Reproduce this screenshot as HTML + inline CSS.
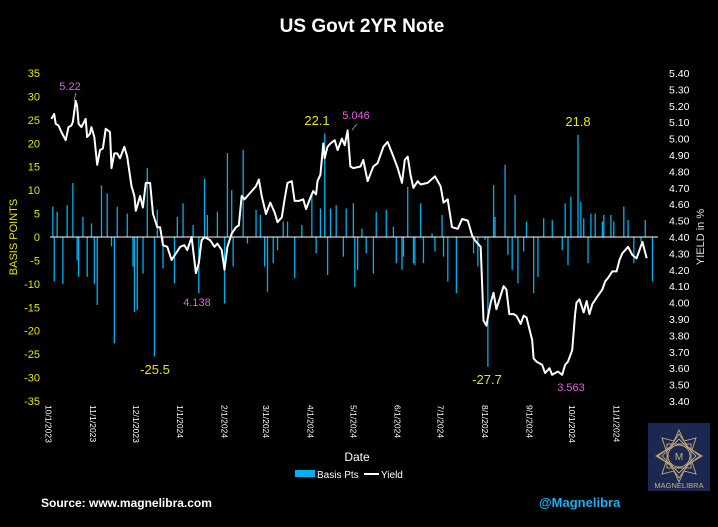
<!DOCTYPE html>
<html><head><meta charset="utf-8">
<style>
html,body{margin:0;padding:0;background:#000;}
body{width:718px;height:522px;overflow:hidden;font-family:"Liberation Sans Narrow","Liberation Sans",sans-serif;}
svg text{font-family:"Liberation Sans Narrow","Liberation Sans",sans-serif;}
</style></head>
<body>
<svg id="chart" width="718" height="522" viewBox="0 0 718 522" xmlns="http://www.w3.org/2000/svg">
<rect x="0" y="0" width="718" height="522" fill="#000"/>
<text x="362" y="32" fill="#fff" font-size="19" font-weight="bold" text-anchor="middle">US Govt 2YR Note</text>
<g id="leftTicks"></g><g id="rightTicks"></g><g id="xTicks"></g>
<g id="bars"></g>
<line x1="50" y1="237" x2="658" y2="237" stroke="#fff" stroke-width="1"/>
<path id="yieldLine" fill="none" stroke="#fff" stroke-width="2" stroke-linejoin="round"/>
<g id="annots"></g>
<text transform="translate(17,237) rotate(-90)" fill="#e6e600" font-size="11" text-anchor="middle">BASIS POINTS</text>
<text transform="translate(704,237) rotate(-90)" fill="#ddd" font-size="11" text-anchor="middle">YIELD in %</text>
<text x="357" y="461" fill="#fff" font-size="12" text-anchor="middle">Date</text>
<g>
<rect x="295" y="470" width="20" height="7" fill="#00b0f0"/>
<text x="317" y="478" fill="#fff" font-size="10">Basis Pts</text>
<line x1="364" y1="474" x2="379" y2="474" stroke="#fff" stroke-width="2"/>
<text x="381" y="478" fill="#fff" font-size="10">Yield</text>
</g>
<text x="41" y="507" fill="#fff" font-size="12" font-weight="bold">Source: www.magnelibra.com</text>
<text x="539" y="507" fill="#1ab0f0" font-size="13" font-weight="bold">@Magnelibra</text>
<g>
<rect x="648" y="423" width="62" height="68" fill="#1c2752"/>
<g fill="none" stroke="#c9b27a" stroke-width="0.9">
<polygon points="679,430 684,441 696,438 692,450 702,456 692,462 696,474 684,471 679,482 674,471 662,474 666,462 656,456 666,450 662,438 674,441"/>
<polygon points="679,434 688,447 700,456 688,465 679,478 670,465 658,456 670,447"/>
<rect x="667" y="444" width="24" height="24" transform="rotate(45 679 456)"/>
<rect x="667" y="444" width="24" height="24"/>
<circle cx="679" cy="456" r="11"/>
</g>
<text x="679" y="460" fill="#c9b27a" font-size="10" text-anchor="middle">M</text>
<text x="679" y="488" fill="#c9b27a" font-size="7.5" text-anchor="middle">MAGNELIBRA</text>
</g>
</svg>
<script>
// ---- data ----
const leftTickValues = [35,30,25,20,15,10,5,0,-5,-10,-15,-20,-25,-30,-35];
const rightTickValues = [5.40,5.30,5.20,5.10,5.00,4.90,4.80,4.70,4.60,4.50,4.40,4.30,4.20,4.10,4.00,3.90,3.80,3.70,3.60,3.50,3.40];
const dateLabels = ["10/1/2023","11/1/2023","12/1/2023","1/1/2024","2/1/2024","3/1/2024","4/1/2024","5/1/2024","6/1/2024","7/1/2024","8/1/2024","9/1/2024","10/1/2024","11/1/2024"];
const dateLabelDays = [0,31,61,92,123,152,183,213,244,274,305,336,366,397];
const yieldDays = [2,4,5,7,9,12,14,16,17,19,20,21,23,26,27,29,30,32,34,36,38,40,43,44,46,48,50,53,55,58,60,61,64,66,68,71,73,76,78,80,83,86,89,92,95,97,100,103,105,107,109,113,116,118,121,123,125,128,131,133,135,137,139,142,145,147,149,152,155,158,160,163,165,167,170,172,175,178,180,183,185,187,188,190,192,193,195,197,200,202,205,207,209,211,213,218,220,223,227,230,234,237,241,244,247,249,251,253,255,258,260,265,270,274,276,279,282,286,289,293,296,298,302,304,306,309,311,313,318,320,322,325,327,330,332,334,338,339,341,345,347,350,352,356,359,361,363,366,368,369,371,374,376,378,380,383,387,389,391,394,397,399,401,405,408,411,415,418,422];
const yieldValues = [5.12,5.15,5.09,5.08,5.04,4.99,5.07,5.08,5.10,5.23,5.20,5.09,5.07,5.12,5.01,5.03,5.07,5.01,4.84,4.93,4.94,5.06,5.04,4.82,4.91,4.91,4.88,4.95,4.89,4.71,4.65,4.56,4.65,4.58,4.73,4.73,4.54,4.46,4.46,4.35,4.34,4.26,4.30,4.34,4.35,4.32,4.40,4.18,4.24,4.38,4.40,4.38,4.34,4.36,4.32,4.20,4.34,4.42,4.46,4.47,4.65,4.63,4.65,4.68,4.71,4.75,4.65,4.54,4.61,4.55,4.49,4.52,4.63,4.73,4.74,4.62,4.62,4.63,4.57,4.64,4.68,4.66,4.74,4.78,4.97,4.88,4.95,4.97,4.99,4.93,5.00,4.96,5.05,4.83,4.82,4.83,4.87,4.74,4.83,4.85,4.95,4.98,4.89,4.82,4.73,4.87,4.89,4.78,4.70,4.74,4.72,4.73,4.77,4.71,4.61,4.63,4.46,4.45,4.51,4.50,4.41,4.38,4.34,3.89,3.86,4.00,4.06,3.96,4.10,4.08,3.93,3.93,3.92,3.87,3.92,3.91,3.77,3.66,3.64,3.62,3.57,3.60,3.56,3.58,3.56,3.62,3.64,3.71,3.93,4.00,4.02,3.94,4.01,3.93,3.99,4.03,4.08,4.13,4.15,4.19,4.19,4.26,4.30,4.34,4.29,4.27,4.37,4.27];
const barDays = [3,4,6,10,13,17,20,21,24,27,30,32,34,37,41,44,46,48,55,59,60,62,66,69,74,76,80,88,90,94,101,105,109,111,118,123,125,128,129,136,139,145,148,151,153,157,160,164,167,172,177,184,187,190,193,195,197,201,206,208,213,214,216,219,222,227,229,236,241,243,247,248,251,255,256,260,262,268,270,275,276,279,285,297,300,305,307,311,312,319,321,324,326,328,332,334,339,342,346,352,359,361,363,365,370,372,374,377,379,382,387,388,393,395,402,405,409,414,417,422];
const barValues = [6.5,-9.5,5.4,-10,6.8,11.5,-5,-8.5,4.3,-8.5,2.9,-10,-14.5,11,9.3,-2,-22.7,6.5,5,-6.3,-16,-15.6,-7.8,14.7,-25.5,5.8,-6.7,-9.9,4.3,7.2,2.6,-12,12.5,4.7,5.4,-14.2,17.9,10,-6.3,18.6,-1.4,5.8,4.7,-6.3,-11.7,-5.6,-2.8,3.3,3.3,-8.8,2.6,9.3,-3.5,6.1,22.1,-8.1,6.1,6.8,-4.2,6.1,7.2,-10.6,-7,1.8,-3.5,-7.8,5.4,5.8,2.2,-5.6,-7,-4.2,10.7,-5.6,-6,7.2,-5.6,0.8,-3.1,4.7,-4.2,-9.5,-12,-3.5,-6.3,-0.6,-27.7,11.1,4.3,15.4,-3.8,-7,9,-9.9,-3.1,3.3,-12,-8.5,4,3.6,-2.8,7.2,-6,8.6,21.8,7.5,4,-5.6,5,5,3.3,4.7,4.7,3.3,6.5,3.6,-5.6,-1,3.6,-9.5];
const annotationTexts = ["5.22","-25.5","4.138","22.1","5.046","-27.7","21.8","3.563"];

// ---- axes ----
const NS = "http://www.w3.org/2000/svg";
const xOf = d => 48.5 + d * 1.431;
const yBp = v => 237 - v * 4.686;
const yYield = v => 237 - (v - 4.4) * 164;
function mk(tag, attrs, parent){ const e=document.createElementNS(NS,tag); for(const k in attrs) e.setAttribute(k,attrs[k]); parent.appendChild(e); return e; }

const lt = document.getElementById('leftTicks');
leftTickValues.forEach(v=>{
  const t = mk('text',{x:40,y:yBp(v)+4,fill:'#e6e600','font-size':11,'text-anchor':'end'},lt);
  
  
  t.textContent = v;
});
const rt = document.getElementById('rightTicks');
rightTickValues.forEach(v=>{
  const t = mk('text',{x:669,y:yYield(v)+4,fill:'#fff','font-size':10.5},rt);
  
  
  t.textContent = v.toFixed(2);
});
const xt = document.getElementById('xTicks');
dateLabels.forEach((s,i)=>{
  const x = xOf(dateLabelDays[i]);
  const t = mk('text',{transform:`translate(${x-3},405) rotate(90)`,fill:'#fff','font-size':8.5},xt);
  
  
  t.textContent = s;
});

// ---- bars ----
const bg = document.getElementById('bars');
barDays.forEach((d,i)=>{
  const v = barValues[i];
  const y0 = yBp(0), y1 = yBp(v);
  const r = mk('rect',{x:xOf(d)-0.6,y:Math.min(y0,y1),width:1.3,height:Math.abs(y1-y0),fill:'#00b0f0'},bg);
  
  
});

// ---- line ----
let p = '';
yieldDays.forEach((d,i)=>{ p += (i?'L':'M') + xOf(d).toFixed(1) + ',' + yYield(yieldValues[i]).toFixed(1); });
document.getElementById('yieldLine').setAttribute('d', p);

// ---- annotations ----
const ag = document.getElementById('annots');
const annotPos = [[70,90,'#e060e0'],[155,374,'#e6e600'],[197,306,'#e060e0'],[317,125,'#e6e600'],[356,119,'#e060e0'],[487,384,'#e6e600'],[578,126,'#e6e600'],[571,391,'#e060e0']];
annotationTexts.forEach((s,i)=>{
  const a = annotPos[i];
  const t = mk('text',{x:a[0],y:a[1],fill:a[2],'font-size':a[2]==='#e6e600'?13:11,'text-anchor':'middle'},ag);
  
  
  t.textContent = s;
});
mk('line',{x1:76,y1:93,x2:74,y2:101,stroke:'#888','stroke-width':1},ag);
mk('line',{x1:357,y1:124,x2:352,y2:130,stroke:'#888','stroke-width':1},ag);
</script>
</body></html>
